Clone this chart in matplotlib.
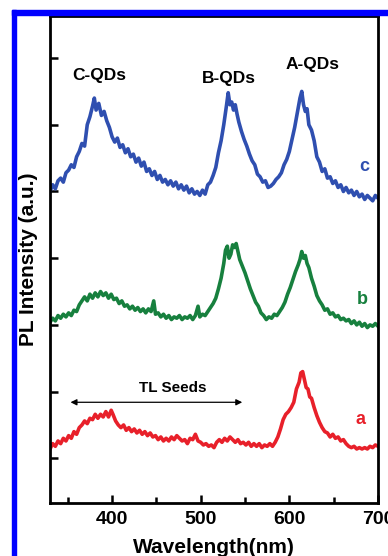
import matplotlib
matplotlib.use("Agg")
from matplotlib import pyplot as plt
from matplotlib.patches import Rectangle

plt.rcParams['font.family'] = ['Liberation Sans', 'DejaVu Sans']
plt.rcParams['font.weight'] = 'bold'

# PL spectra (wavelength in nm, intensity in a.u.)
wl_c = [330, 333, 336, 339, 342, 345, 348, 351, 354, 357, 360, 363, 366, 369, 372, 375, 378, 380, 382, 385,
        388, 391, 394, 397, 400, 403, 406, 409, 412, 415, 418, 421, 424, 427, 430, 433, 436, 439, 442, 445,
        448, 451, 454, 457, 460, 463, 466, 469, 472, 475, 478, 481, 484, 487, 490, 493, 496, 499, 502, 505,
        508, 511, 514, 517, 520, 523, 526, 529, 531, 533, 535, 537, 539, 541, 543, 546, 549, 552, 555, 558,
        561, 564, 567, 570, 573, 576, 579, 582, 585, 588, 591, 594, 597, 600, 603, 606, 609, 612, 614, 616,
        618, 620, 622, 625, 628, 631, 634, 637, 640, 643, 646, 649, 652, 655, 658, 661, 664, 667, 670, 673,
        676, 679, 682, 685, 688, 691, 694, 697, 700]
pl_c = [400, 410, 404, 416, 420, 414, 428, 432, 440, 436, 452, 460, 472, 468, 500, 512, 528, 540, 522, 532,
        514, 520, 506, 496, 482, 474, 480, 466, 470, 458, 464, 452, 456, 444, 450, 438, 444, 430, 434, 424,
        430, 418, 424, 414, 418, 410, 416, 408, 414, 404, 410, 402, 408, 398, 404, 396, 400, 394, 402, 396,
        410, 414, 424, 436, 458, 476, 500, 528, 548, 530, 534, 522, 530, 516, 504, 490, 478, 468, 456, 446,
        440, 426, 422, 414, 416, 406, 408, 412, 418, 422, 428, 440, 448, 460, 478, 496, 518, 540, 550, 530,
        520, 524, 500, 492, 476, 452, 444, 430, 434, 420, 422, 412, 416, 406, 410, 400, 406, 398, 402, 394,
        400, 392, 396, 388, 394, 390, 386, 394, 390]

wl_b = [330, 333, 336, 339, 342, 345, 348, 351, 354, 357, 360, 363, 366, 369, 372, 375, 378, 381, 384, 387,
        390, 393, 396, 399, 402, 405, 408, 411, 414, 417, 420, 423, 426, 429, 432, 435, 438, 441, 444, 447,
        449, 452, 455, 458, 461, 464, 467, 470, 473, 476, 479, 482, 485, 488, 491, 494, 497, 499, 502, 505,
        508, 511, 514, 517, 520, 523, 526, 528, 530, 532, 534, 536, 538, 540, 542, 544, 547, 550, 553, 556,
        559, 562, 565, 568, 571, 574, 577, 580, 583, 586, 589, 592, 595, 598, 601, 604, 607, 610, 612, 614,
        616, 618, 620, 622, 625, 628, 631, 634, 637, 640, 643, 646, 649, 652, 655, 658, 661, 664, 667, 670,
        673, 676, 679, 682, 685, 688, 691, 694, 697, 700]
pl_b = [204, 210, 206, 214, 210, 216, 212, 218, 214, 222, 220, 230, 236, 242, 236, 246, 240, 248, 242, 250,
        244, 248, 240, 246, 238, 240, 232, 236, 228, 230, 224, 228, 222, 226, 220, 224, 218, 224, 220, 236,
        216, 218, 212, 216, 210, 214, 208, 212, 210, 214, 208, 212, 210, 214, 208, 214, 228, 212, 216, 214,
        220, 226, 232, 240, 254, 270, 292, 312, 318, 300, 306, 320, 316, 322, 310, 298, 288, 278, 266, 254,
        244, 234, 228, 218, 214, 208, 212, 210, 216, 214, 220, 226, 234, 246, 256, 268, 280, 290, 298, 310,
        300, 304, 292, 286, 270, 258, 244, 236, 230, 222, 224, 216, 218, 212, 214, 208, 210, 206, 208, 202,
        206, 200, 204, 198, 202, 196, 200, 198, 202, 198]

wl_a = [330, 333, 336, 339, 342, 345, 348, 351, 354, 357, 360, 363, 366, 369, 372, 375, 378, 381, 384, 387,
        390, 393, 396, 399, 401, 404, 407, 410, 413, 416, 419, 422, 425, 428, 431, 434, 437, 440, 443, 446,
        449, 452, 455, 458, 461, 464, 467, 470, 473, 476, 479, 482, 485, 488, 491, 494, 497, 500, 503, 506,
        509, 512, 515, 518, 521, 524, 527, 530, 533, 536, 539, 542, 545, 548, 551, 554, 557, 560, 563, 566,
        569, 572, 575, 578, 581, 584, 587, 590, 593, 596, 599, 602, 605, 608, 611, 613, 615, 617, 619, 621,
        623, 625, 628, 631, 634, 637, 640, 643, 646, 649, 652, 655, 658, 661, 664, 667, 670, 673, 676, 679,
        682, 685, 688, 691, 694, 697, 700]
pl_a = [14, 22, 18, 26, 22, 30, 26, 34, 30, 40, 36, 46, 50, 56, 52, 60, 58, 66, 60, 66,
        62, 70, 62, 72, 66, 56, 50, 46, 50, 42, 46, 40, 44, 38, 42, 36, 40, 34, 38, 32,
        34, 28, 32, 26, 30, 26, 32, 28, 34, 30, 26, 28, 22, 30, 28, 36, 26, 24, 20, 22,
        18, 20, 16, 24, 28, 24, 30, 26, 32, 28, 24, 28, 22, 24, 20, 24, 18, 22, 18, 22,
        16, 20, 18, 22, 18, 24, 32, 44, 58, 66, 70, 76, 84, 104, 114, 128, 130, 118, 106, 104,
        92, 90, 76, 64, 54, 46, 40, 38, 32, 36, 30, 32, 26, 28, 22, 18, 16, 18, 14, 16,
        14, 16, 14, 18, 16, 20, 18]

x_ticks = [400, 500, 600, 700]
x_minor = [350, 450, 550, 650]
y_ticks = [0, 100, 200, 300, 400, 500, 600]

blue = '#2f4fb0'
green = '#17803e'
red = '#e8202a'

fig = plt.figure(figsize=(3.88, 5.56), dpi=100)
ax = fig.add_axes([0.1289, 0.0953, 0.8453, 0.8759])

ax.plot(wl_c, pl_c, color=blue, lw=2.6)
ax.plot(wl_b, pl_b, color=green, lw=2.6)
ax.plot(wl_a, pl_a, color=red, lw=2.6)

ax.set_xlim(330, 700)
ax.set_ylim(-67, 663)
ax.set_xticks(x_ticks)
ax.set_xticks(x_minor, minor=True)
ax.set_yticks(y_ticks)
ax.set_yticklabels([])
ax.tick_params(direction='in', width=1.8, labelsize=14, pad=6)
ax.tick_params(axis='x', which='major', length=6)
ax.tick_params(axis='x', which='minor', length=4, width=1.8, direction='in')
ax.tick_params(axis='y', length=6)
for lab in ax.get_xticklabels():
    lab.set_fontweight('bold')
for sp in ax.spines.values():
    sp.set_linewidth(2)

ax.set_xlabel('Wavelength(nm)', fontsize=15, fontweight='bold', labelpad=7)
ax.set_ylabel('PL Intensity (a.u.)', fontsize=15, fontweight='bold', labelpad=3)

ax.text(386, 574, 'C-QDs', fontsize=12.5, fontweight='bold', ha='center', va='center')
ax.text(532, 570, 'B-QDs', fontsize=12.5, fontweight='bold', ha='center', va='center')
ax.text(626, 590, 'A-QDs', fontsize=12.5, fontweight='bold', ha='center', va='center')
ax.text(684, 438, 'c', fontsize=13, fontweight='bold', color=blue, ha='center', va='center')
ax.text(682, 238, 'b', fontsize=13, fontweight='bold', color=green, ha='center', va='center')
ax.text(680, 58, 'a', fontsize=13, fontweight='bold', color=red, ha='center', va='center')
ax.text(468, 105, 'TL Seeds', fontsize=11, fontweight='bold', ha='center', va='center')
ax.annotate('', xy=(350, 84), xytext=(550, 84),
            arrowprops=dict(arrowstyle='<|-|>', color='black', lw=0.9, mutation_scale=9))

# blue frame around the panel
fig.patches.append(Rectangle((0.031, 0.973), 0.969, 0.009, transform=fig.transFigure,
                             color='#0000ff', zorder=5))
fig.patches.append(Rectangle((0.031, 0.0), 0.010, 0.982, transform=fig.transFigure,
                             color='#0000ff', zorder=5))

fig.savefig('out.png', dpi=100)
